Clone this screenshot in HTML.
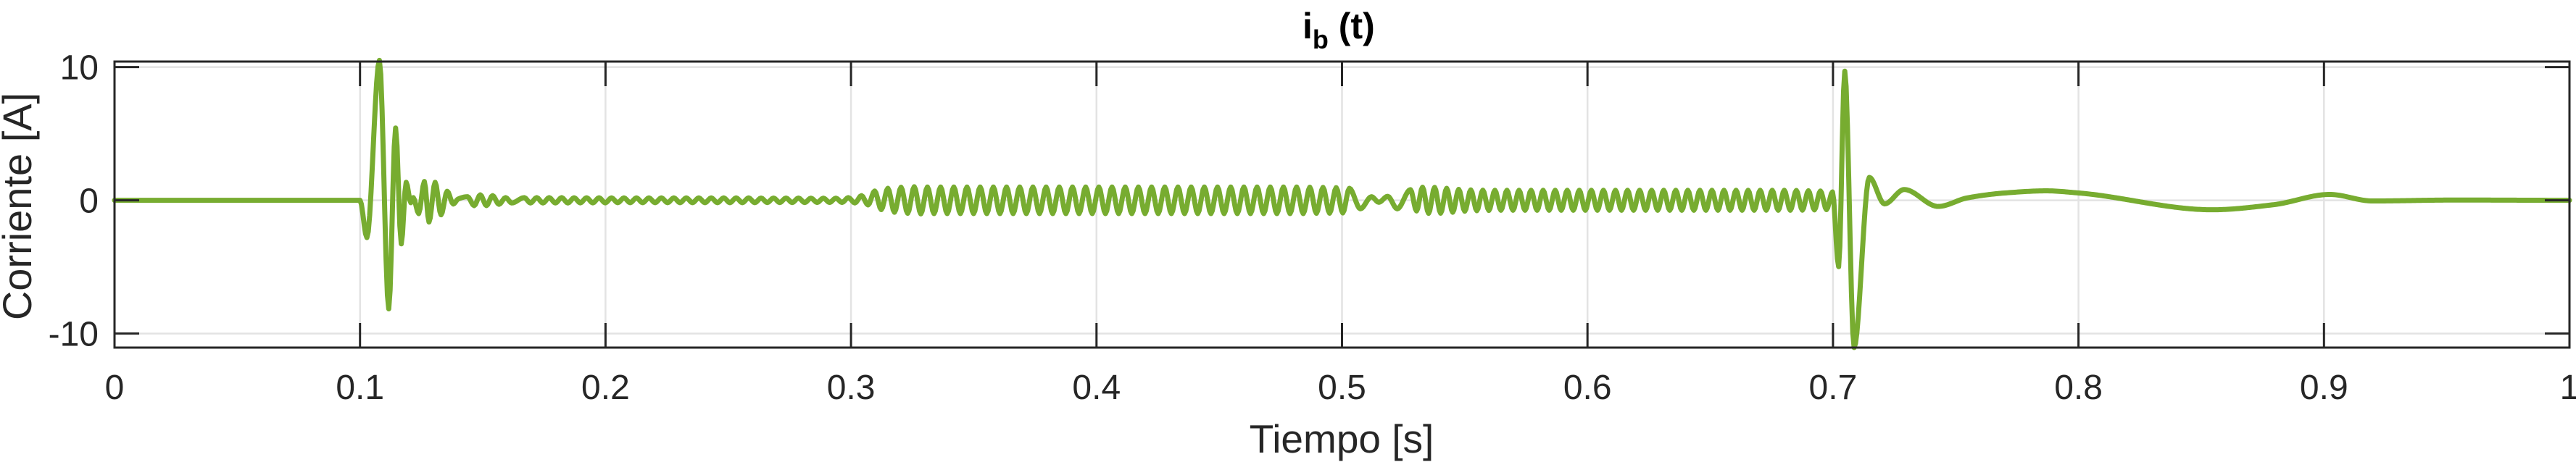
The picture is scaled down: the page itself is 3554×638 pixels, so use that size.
<!DOCTYPE html>
<html><head><meta charset="utf-8"><style>
html,body{margin:0;padding:0;background:#fff;}
svg{display:block;font-family:"Liberation Sans",Arial,sans-serif;}
</style></head><body>
<svg id="chart" width="3554" height="638" viewBox="0 0 3554 638" xmlns="http://www.w3.org/2000/svg">
<rect x="0" y="0" width="3554" height="638" fill="#fff"/>
<g id="grid"></g>
<g id="series"></g>
<g id="axes"></g>
<text x="1797" y="53" font-size="50" font-weight="bold" fill="#000">i<tspan font-size="36" dy="14">b</tspan><tspan dy="-14"> (t)</tspan></text>
<text x="1851" y="625" font-size="55" fill="#262626" text-anchor="middle">Tiempo [s]</text>
<text x="0" y="0" font-size="56" fill="#262626" text-anchor="middle" transform="translate(43,285) rotate(-90)">Corriente [A]</text>
</svg>
<script>
// ---- data ----
const xTicks = [0,0.1,0.2,0.3,0.4,0.5,0.6,0.7,0.8,0.9,1];
const xTickLabels = ["0","0.1","0.2","0.3","0.4","0.5","0.6","0.7","0.8","0.9","1"];
const yTicks = [-10,0,10];
const yTickLabels = ["-10","0","10"];
// transient 1 (t, value)
const t1Times = [0,0.1,0.1028,0.1079,0.1117,0.1145,0.1168,0.1188,0.1207,0.1217,0.1239,0.1262,0.1281,0.1306,0.1330,0.1355,0.1380,0.1399,0.1438,0.1465,0.1490,0.1515,0.1540,0.1566,0.1593,0.1618];
const t1Values = [0,0,-2.8,10.5,-8.15,5.43,-3.27,1.35,-0.18,0.2,-1.0,1.41,-1.63,1.35,-1.09,0.68,-0.28,0.09,0.27,-0.4,0.41,-0.4,0.35,-0.3,0.2,-0.2];
// ripple A: per-cycle amplitude
const rippleAStart = 0.1669, rippleAEnd = 0.2989;
const rippleAAmps = [0.2,0.2,0.2,0.2,0.19,0.19,0.19,0.18,0.18,0.18,0.18,0.18,0.18,0.18,0.18,0.18,0.18,0.18,0.18,0.17,0.17,0.17,0.17,0.16,0.16,0.16];
// ripple B
const rippleBStart = 0.2989, rippleBEnd = 0.5030;
const rippleBAmps = [0.2,0.35,0.7,0.9,0.98,1.02,1.0,1.0,1.0,1.0,1.0,1.0,1.0,1.0,1.0,1.0,1.0,1.0,1.0,1.0,1.0,1.0,1.0,1.0,1.0,1.0,1.0,1.0,1.0,1.0,1.0,1.0,1.0,1.0,1.0,0.98,0.97,0.95];
// mid disturbance near 0.5
const t2Times = [0.5030,0.5075,0.5120,0.5150,0.5186,0.5225];
const t2Values = [0.9,-0.64,0.27,-0.15,0.3,-0.64];
// ripple C
const rippleCStart = 0.5279, rippleCEnd = 0.6998;
const rippleCAmps = [0.8,0.98,0.97,0.9,0.82,0.78,0.76,0.75,0.75,0.75,0.75,0.75,0.75,0.75,0.75,0.75,0.75,0.75,0.75,0.75,0.75,0.75,0.75,0.75,0.75,0.75,0.75,0.75,0.75,0.75,0.75,0.75,0.74,0.72,0.7];
// transient 2 and tail
const t3Times = [0.6998,0.7023,0.7048,0.7086,0.7148,0.7210,0.7290,0.7428,0.7547,0.7700,0.787,0.800,0.8545,0.8795,0.9023,0.9197,0.9535,1.0];
const t3Values = [0.63,-4.98,9.69,-11.05,1.72,-0.27,0.81,-0.46,0.18,0.55,0.71,0.55,-0.71,-0.33,0.44,-0.05,0.02,0];

// ---- layout ----
const X0=158, X1=3545, Y0=85, Y1=480;
const YZ=276.6, YS=18.4;
const xs = t => X0 + (X1-X0)*t;
const ys = v => YZ - YS*v;
const NS="http://www.w3.org/2000/svg";
function mk(tag, attrs, parent){const e=document.createElementNS(NS,tag);for(const k in attrs)e.setAttribute(k,attrs[k]);parent.appendChild(e);return e;}
const grid=document.getElementById('grid'), axes=document.getElementById('axes'), series=document.getElementById('series');

xTicks.forEach((t,i)=>{
  if(i>0&&i<xTicks.length-1){
    const g=mk('line',{x1:xs(t),x2:xs(t),y1:Y0,y2:Y1,stroke:'#e3e3e3','stroke-width':2.5},grid);
    
    
  }
  const a=mk('line',{x1:xs(t),x2:xs(t),y1:Y1,y2:Y1-34,stroke:'#262626','stroke-width':3},axes);
  
  
  const b=mk('line',{x1:xs(t),x2:xs(t),y1:Y0,y2:Y0+34,stroke:'#262626','stroke-width':3},axes);
  
  
  const l=mk('text',{x:xs(t),y:551,'font-size':48,'text-anchor':'middle',fill:'#262626'},axes);
  l.textContent=xTickLabels[i];
  
  
});
yTicks.forEach((v,i)=>{
  const g=mk('line',{x1:X0,x2:X1,y1:ys(v),y2:ys(v),stroke:'#e3e3e3','stroke-width':2.5},grid);
  
  
  const a=mk('line',{x1:X0,x2:X0+34,y1:ys(v),y2:ys(v),stroke:'#262626','stroke-width':3},axes);
  
  
  const b=mk('line',{x1:X1,x2:X1-34,y1:ys(v),y2:ys(v),stroke:'#262626','stroke-width':3},axes);
  
  
  const l=mk('text',{x:136,y:ys(v)+17,'font-size':48,'text-anchor':'end',fill:'#262626'},axes);
  l.textContent=yTickLabels[i];
  
  
});
const box=mk('rect',{x:X0,y:Y0,width:X1-X0,height:Y1-Y0,fill:'none',stroke:'#262626','stroke-width':3},axes);



// ---- build knots ----
let T=[],V=[];
function pushKnots(ts,vs){ts.forEach((t,i)=>{if(T.length&&t<=T[T.length-1])return;T.push(t);V.push(vs[i]);});}
function pushRipple(start,end,amps){
  const P=(end-start)/amps.length;
  amps.forEach((a,k)=>{pushKnots([start+k*P,start+(k+0.5)*P],[a,-a]);});
}
pushKnots(t1Times,t1Values);
pushRipple(rippleAStart,rippleAEnd,rippleAAmps);
pushRipple(rippleBStart,rippleBEnd,rippleBAmps);
pushKnots(t2Times,t2Values);
pushRipple(rippleCStart,rippleCEnd,rippleCAmps);
pushKnots(t3Times,t3Values);

// monotone cubic (Fritsch-Carlson)
const n=T.length, d=[], m=new Array(n).fill(0);
for(let i=0;i<n-1;i++) d.push((V[i+1]-V[i])/(T[i+1]-T[i]));
for(let i=1;i<n-1;i++){ if(d[i-1]*d[i]<=0) m[i]=0; else { const h0=T[i]-T[i-1],h1=T[i+1]-T[i]; const w1=2*h1+h0,w2=h1+2*h0; m[i]=(w1+w2)/(w1/d[i-1]+w2/d[i]); } }
m[0]=0; m[n-1]=0;
let path='M'+xs(T[0]).toFixed(2)+','+ys(V[0]).toFixed(2);
for(let i=0;i<n-1;i++){
  const h=T[i+1]-T[i];
  const steps=Math.max(2,Math.ceil((xs(T[i+1])-xs(T[i]))/2));
  for(let s=1;s<=steps;s++){
    const u=s/steps,u2=u*u,u3=u2*u;
    const v=(2*u3-3*u2+1)*V[i]+(u3-2*u2+u)*h*m[i]+(-2*u3+3*u2)*V[i+1]+(u3-u2)*h*m[i+1];
    path+='L'+xs(T[i]+u*h).toFixed(2)+','+ys(v).toFixed(2);
  }
}
const line=mk('path',{d:path,fill:'none',stroke:'#77AC30','stroke-width':7,'stroke-linejoin':'round','stroke-linecap':'round'},series);


</script>
</body></html>
